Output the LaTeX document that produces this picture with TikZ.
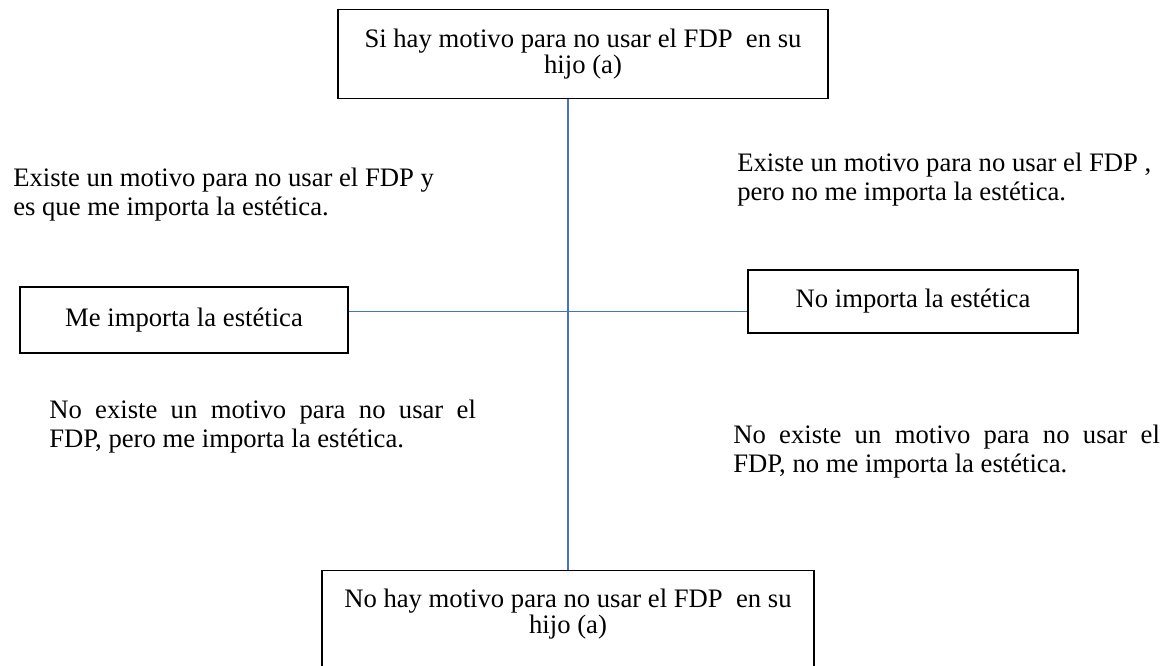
\documentclass[tikz,border=0pt]{standalone}
\usepackage{fontspec}
\setmainfont{Liberation Serif}
\tolerance=9999
\hbadness=10000
\tikzset{
  quadbox/.style={draw=black, line width=1.1pt, align=flush center, inner sep=0pt, font=\fontsize{20}{19.5}\selectfont},
  quadnote/.style={inner sep=0pt, font=\fontsize{20}{21.5}\selectfont},
  axisline/.style={draw={rgb,255:red,68;green,114;blue,196}, line width=1.1pt}
}
\begin{document}
\begin{tikzpicture}[x=0.75pt,y=0.75pt,yscale=-1,xscale=1]
		\useasboundingbox (0,0) rectangle (1168,666);
		\clip (0,0) rectangle (1168,666);
		\coordinate (cross) at (568,311.5);
		
		% Text Node
		\draw (583,9) node [quadbox, anchor=north, text width=367.5pt, inner ysep=14.5pt, text height=14pt] (tbox) {Si hay motivo para no usar el FDP~ en su\\hijo (a)};
		% Text Node
		\draw (184,320) node [quadbox, minimum width=246pt, minimum height=49.5pt] (lbox) {Me importa la estética};
		% Text Node
		\draw (913,301.5) node [quadbox, minimum width=247.5pt, minimum height=47.25pt] (rbox) {No importa la estética};
		% Text Node
		\draw (568,570) node [quadbox, anchor=north, text width=369pt, inner ysep=13.5pt, text height=14pt, text depth=52pt] (bbox) {No hay motivo para no usar el FDP~ en su\\hijo (a)};
		
		%Straight Lines
		\draw [axisline] (tbox.south -| cross) -- (bbox.north);
		%Straight Lines
		\draw [axisline] (lbox.east |- cross) -- (rbox.west |- cross);
		
		% Text Node
		\draw (13,187) node [quadnote, anchor=base west, text width=320pt, align=flush left] (tlnote) {Existe un motivo para no usar el FDP y\\es que me importa la estética.};
		% Text Node
		\draw (737,172) node [quadnote, anchor=base west, text width=320pt, align=flush left] (trnote) {Existe un motivo para no usar el FDP ,\\pero no me importa la estética.};
		% Text Node
		\draw (49,419) node [quadnote, anchor=base west, text width=320pt, align=justify] (blnote) {No existe un motivo para no usar el\linebreak FDP, pero me importa la estética.};
		% Text Node
		\draw (733,444) node [quadnote, anchor=base west, text width=320pt, align=justify] (brnote) {No existe un motivo para no usar el\linebreak FDP, no me importa la estética.};
	\end{tikzpicture}
\end{document}
